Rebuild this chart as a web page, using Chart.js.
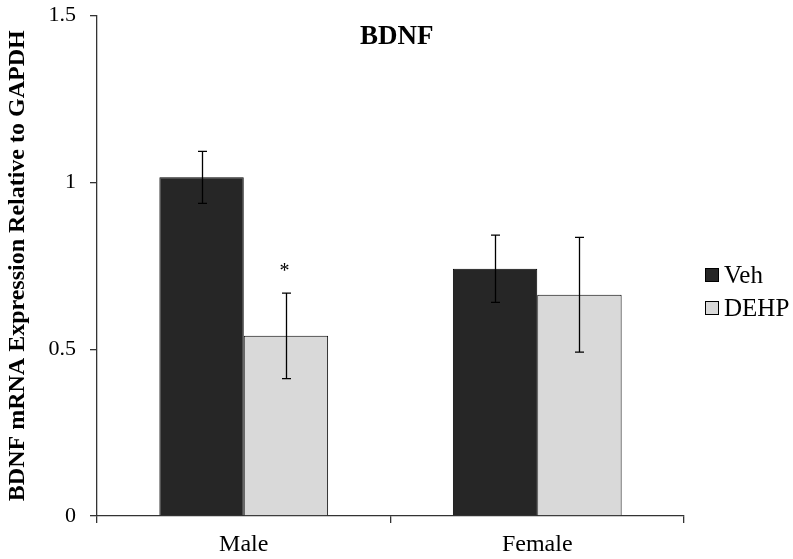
<!DOCTYPE html>
<html><head><meta charset="utf-8">
<script src="https://cdn.jsdelivr.net/npm/chart.js@4/dist/chart.umd.min.js"></script>
<style>html,body{margin:0;padding:0;background:#fff}#wrap{width:793px;height:559px}</style>
</head><body><div id="wrap"><canvas id="c" width="793" height="559"></canvas></div>
<script>
const categories = ["Male", "Female"];
const seriesNames = ["Veh", "DEHP"];
const vehValues = [1.015, 0.741];
const vehErrors = [0.078, 0.101];
const dehpValues = [0.540, 0.663];
const dehpErrors = [0.128, 0.172];
const significance = ["*", ""];
const yTicks = [0, 0.5, 1, 1.5];
const chartTitle = "BDNF";
const yTitle = "BDNF mRNA Expression Relative to GAPDH";

const FONT = "'Liberation Serif','Times New Roman',serif";
const colors = ["#262626", "#d9d9d9"];

const errorBars = {
  id: 'errorBars',
  afterDatasetsDraw(chart) {
    const ctx = chart.ctx, y = chart.scales.y;
    const errs = [vehErrors, dehpErrors];
    ctx.save();
    ctx.strokeStyle = '#000'; ctx.lineWidth = 1.3;
    chart.data.datasets.forEach((ds, di) => {
      const meta = chart.getDatasetMeta(di);
      meta.data.forEach((bar, i) => {
        const v = ds.data[i], e = errs[di][i];
        const x = Math.round(bar.x) + 0.5;
        const yt = y.getPixelForValue(v + e), yb = y.getPixelForValue(v - e);
        ctx.beginPath();
        ctx.moveTo(x, yt); ctx.lineTo(x, yb);
        ctx.moveTo(x - 4.5, yt); ctx.lineTo(x + 4.5, yt);
        ctx.moveTo(x - 4.5, yb); ctx.lineTo(x + 4.5, yb);
        ctx.stroke();
        if (di === 1 && significance[i]) {
          ctx.fillStyle = '#000';
          ctx.font = "20px " + FONT;
          ctx.textAlign = 'center'; ctx.textBaseline = 'middle';
          ctx.fillText(significance[i], x - 2, yt - 21);
        }
      });
    });
    // title
    ctx.fillStyle = '#000';
    ctx.font = "bold 27px " + FONT;
    ctx.textAlign = 'left'; ctx.textBaseline = 'middle';
    ctx.fillText(chartTitle, 360, 37.5);
    // legend
    ctx.font = "25px " + FONT;
    seriesNames.forEach((n, k) => {
      const cy = 275 + k * 33;
      ctx.fillStyle = colors[k];
      ctx.fillRect(705.5, cy - 6.5, 13, 13);
      ctx.strokeStyle = '#000'; ctx.lineWidth = 1;
      ctx.strokeRect(705.5, cy - 6.5, 13, 13);
      ctx.fillStyle = '#000';
      ctx.fillText(n, 724, cy + 1);
    });
    ctx.restore();
  }
};

new Chart(document.getElementById('c'), {
  type: 'bar',
  data: {
    labels: categories,
    datasets: [
      { label: seriesNames[0], data: vehValues, backgroundColor: colors[0], borderColor: '#000', borderWidth: 1 },
      { label: seriesNames[1], data: dehpValues, backgroundColor: colors[1], borderColor: '#000', borderWidth: 1 }
    ]
  },
  options: {
    responsive: false,
    animation: false,
    devicePixelRatio: 1,
    layout: { padding: { top: 15.5, right: 109, left: 0, bottom: 0 } },
    plugins: { legend: { display: false }, tooltip: { enabled: false }, title: { display: false } },
    datasets: { bar: { categoryPercentage: 0.575, barPercentage: 1.0 } },
    scales: {
      x: {
        afterFit: s => { s.height = 43; s.paddingLeft = 0; s.paddingRight = 0; },
        grid: { offset: true, drawOnChartArea: false, tickLength: 7, color: '#333', lineWidth: 1.3 },
        border: { color: '#333', width: 1.3 },
        ticks: { color: '#000', font: { family: FONT, size: 24 }, padding: 7 }
      },
      y: {
        min: 0, max: 1.5,
        afterFit: s => { s.width = 97; s.paddingTop = 0; s.paddingBottom = 0; },
        afterBuildTicks: s => { s.ticks = yTicks.map(v => ({ value: v })); },
        grid: { drawOnChartArea: false, tickLength: 7, color: '#333', lineWidth: 1.3 },
        border: { color: '#333', width: 1.3 },
        ticks: { color: '#000', font: { family: FONT, size: 22 }, padding: 14, callback: v => String(v) },
        title: { display: true, text: yTitle, color: '#000', font: { family: FONT, size: 24, weight: 'bold' }, padding: { top: 3, bottom: 0 } }
      }
    }
  },
  plugins: [errorBars]
});
</script></body></html>
